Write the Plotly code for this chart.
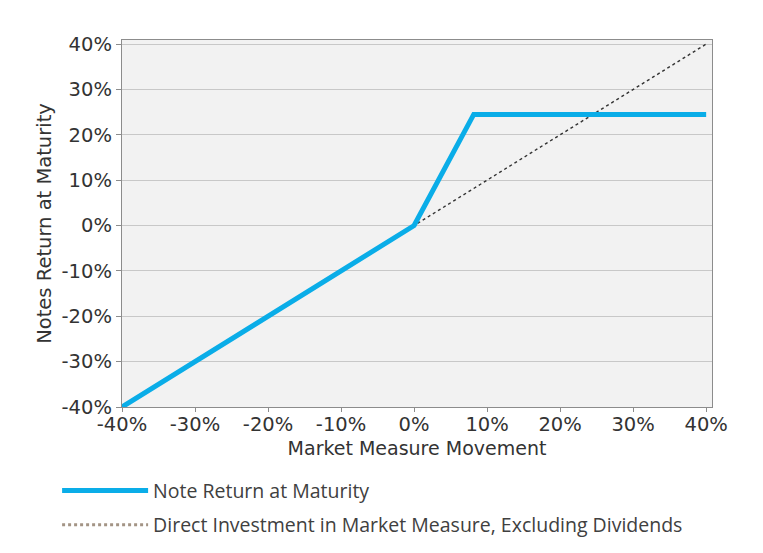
import plotly.graph_objects as go

# Data
market_x = [-40, 0, 8.17, 40]
note_y = [-40, 0, 24.5, 24.5]
direct_x = [-40, 40]
direct_y = [-40, 40]
tick_vals = [-40, -30, -20, -10, 0, 10, 20, 30, 40]
tick_text = ["-40%", "-30%", "-20%", "-10%", "0%", "10%", "20%", "30%", "40%"]

fig = go.Figure()
fig.add_trace(go.Scatter(x=direct_x, y=direct_y, mode="lines",
                         line=dict(color="#333333", width=1.4, dash="dot"),
                         showlegend=False, hoverinfo="skip"))
fig.add_trace(go.Scatter(x=market_x, y=note_y, mode="lines",
                         name="Note Return at Maturity", legendgroup="a",
                         line=dict(color="#0AADE8", width=5)))
fig.add_trace(go.Scatter(x=[None], y=[None], mode="lines", legendgroup="b",
                         name="Direct Investment in Market Measure, Excluding Dividends",
                         line=dict(color="#A39485", width=3, dash="dot")))

fig.update_layout(
    width=763, height=553,
    margin=dict(l=114, r=59, t=32, b=154),
    paper_bgcolor="white", plot_bgcolor="#F2F2F2",
    font=dict(family="DejaVu Sans", color="#404040"),
    legend=dict(x=-0.110, y=-0.175, xanchor="left", yanchor="top",
                font=dict(family="Open Sans", size=19.5, color="#404040"),
                itemwidth=86, tracegroupgap=6, bgcolor="rgba(0,0,0,0)"),
    xaxis=dict(range=[-40, 40.8], tickvals=tick_vals, ticktext=tick_text,
               showgrid=False, zeroline=False, showline=True, mirror=True,
               linecolor="#8C8C8C", linewidth=1.3, ticks="outside", ticklen=4,
               ticklabelstandoff=-5,
               tickcolor="#8C8C8C", tickfont=dict(size=19.5, color="#333333"),
               title=dict(text="Market Measure Movement", standoff=7,
                          font=dict(family="DejaVu Sans", size=19, color="#333333"))),
    yaxis=dict(range=[-40, 40.9], tickvals=tick_vals, ticktext=tick_text,
               showgrid=True, gridcolor="#C8C8C8", gridwidth=1.3,
               zeroline=False, showline=True, mirror=True,
               linecolor="#8C8C8C", linewidth=1.3, ticks="outside", ticklen=5,
               tickcolor="#8C8C8C", tickfont=dict(size=19.5, color="#333333"),
               title=dict(text="Notes Return at Maturity", standoff=4,
                          font=dict(family="DejaVu Sans", size=19.5, color="#333333"))),
)

fig.write_html("out.html")
